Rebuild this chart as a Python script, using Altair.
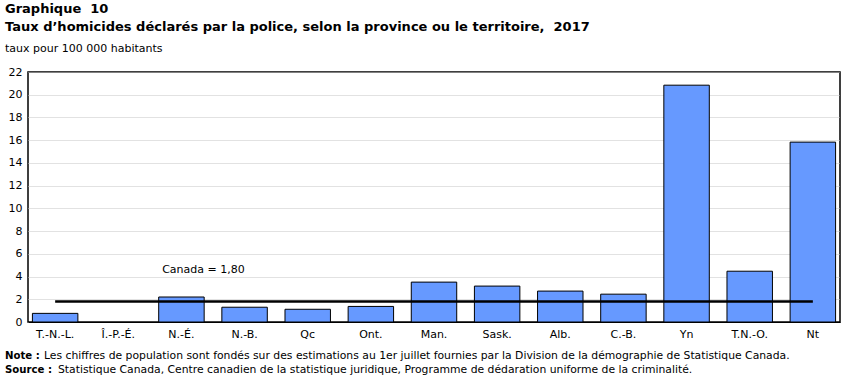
import altair as alt
import pandas as pd

# Taux d'homicides déclarés par la police, 2017 (pour 100 000 habitants)
regions = ["T.-N.-L.", "Î.-P.-É.", "N.-É.", "N.-B.", "Qc", "Ont.", "Man.",
           "Sask.", "Alb.", "C.-B.", "Yn", "T.N.-O.", "Nt"]
taux = [0.76, 0.00, 2.20, 1.30, 1.12, 1.37, 3.51, 3.16, 2.72, 2.45, 20.84, 4.47, 15.83]
taux_canada = 1.80

y_ticks = list(range(0, 23, 2))

FONT = "DejaVu Sans"
W, H = 812, 250

df = pd.DataFrame({"region": regions, "taux": taux})
df_canada = pd.DataFrame({"region": regions, "canada": [taux_canada] * len(regions)})
df_label = pd.DataFrame({
    "region": ["N.-É."],
    "y": [4.55],
    "texte": ["Canada = " + f"{taux_canada:.2f}".replace(".", ",")],
})

x_axis = alt.Axis(labelAngle=0, ticks=False, labelPadding=6,
                  labelFont=FONT, labelFontSize=11, labelColor="#000",
                  domainColor="#000", labelFlush=False, labelOverlap=False)
x_scale = alt.Scale(paddingInner=0.28, paddingOuter=0.07)
y_axis = alt.Axis(values=y_ticks, tickCount=12, ticks=False, labelPadding=6,
                  labelFont=FONT, labelFontSize=11, labelColor="#000",
                  labelOverlap=False, domain=False,
                  gridColor="#c4c4c4", gridDash=[1, 1], gridWidth=1)
y_scale = alt.Scale(domain=[0, 22], nice=False)


def x_enc():
    return alt.X("region:N", sort=regions, title=None, scale=x_scale, axis=x_axis)


def y_enc(champ):
    return alt.Y(champ, scale=y_scale, title=None, axis=y_axis)


bars = alt.Chart(df).mark_bar(color="#6699ff", strokeWidth=1).encode(
    x=x_enc(),
    y=y_enc("taux:Q"),
    stroke=alt.condition(alt.datum.taux > 0, alt.value("#000"), alt.value("transparent")),
)

ligne = alt.Chart(df_canada).mark_line(color="#000", strokeWidth=2.5).encode(
    x=x_enc(),
    y=y_enc("canada:Q"),
)

etiquette = alt.Chart(df_label).mark_text(
    font=FONT, fontSize=11, color="#000", dx=22, baseline="middle"
).encode(
    x=x_enc(),
    y=y_enc("y:Q"),
    text="texte:N",
)

# Titres en haut et notes en bas, placés par rapport à la zone de tracé
def texte(chaine, x, y, size=11, weight="normal", font=FONT):
    return alt.Chart(pd.DataFrame({"t": [chaine]})).mark_text(
        font=font, fontSize=size, fontWeight=weight, align="left",
        baseline="alphabetic", color="#000"
    ).encode(x=alt.value(x), y=alt.value(y), text="t:N")

NBSP = "\u00a0"
titres = [
    texte("Graphique " + NBSP + "10", -23, -59, 13, "bold"),
    texte("Taux d\u2019homicides déclarés par la police, selon la province ou le territoire, " + NBSP + "2017",
          -23, -41, 13, "bold"),
    texte("taux pour 100 000 habitants", -23, -20, 11),
]

LABEL_FONT = "DejaVu Sans Condensed"
notes = [
    texte("Note :", -23, H + 37, 11.3, "bold", LABEL_FONT),
    texte("Les chiffres de population sont fondés sur des estimations au 1er juillet fournies par la Division de la démographie de Statistique Canada.",
          16, H + 37, 10.8, "normal", FONT),
    texte("Source :", -23, H + 51, 11.3, "bold", LABEL_FONT),
    texte("Statistique Canada, Centre canadien de la statistique juridique, Programme de dédaration uniforme de la criminalité.",
          30, H + 51, 10.8, "normal", FONT),
]

chart = alt.layer(bars, ligne, etiquette, *titres, *notes).properties(
    width=W, height=H,
    autosize=alt.AutoSizeParams(type="none"),
    padding={"left": 28, "top": 72, "right": 10, "bottom": 56},
    view=alt.ViewBackground(stroke="#000", strokeWidth=1.5),
).configure(background="#fff")

chart.save("out.html", embed_options={"renderer": "svg", "actions": False})
